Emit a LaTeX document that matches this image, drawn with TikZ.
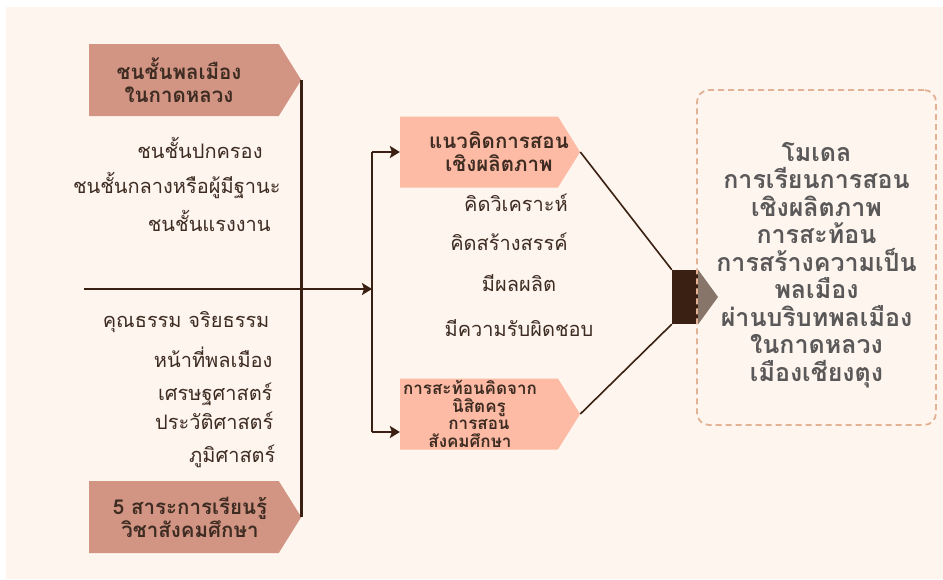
\documentclass[tikz,border=0pt]{standalone}
\usepackage{fontspec}
\usepackage{tikz}
\usetikzlibrary{shapes.symbols,arrows.meta}
\newfontfamily\thaifont[Script=Thai]{Loma}
\definecolor{bgcream}{HTML}{FDF5EE}
\definecolor{roseclay}{HTML}{D29584}
\definecolor{salmon}{HTML}{FDBBA5}
\definecolor{darkbrown}{HTML}{3A2012}
\definecolor{textbrown}{HTML}{3E2C22}
\definecolor{slategrey}{HTML}{5A5858}
\definecolor{dashpeach}{HTML}{E3B194}

\begin{document}
\begin{tikzpicture}[x=1pt,y=-1pt,
    every node/.style={font=\thaifont\fontsize{20}{24}\selectfont, text=textbrown},
    headbox/.style={signal, signal to=east, signal pointer angle=116, fill=roseclay,
        minimum width=212pt, minimum height=72pt, inner sep=0pt, align=center,
        font=\thaifont\bfseries\fontsize{20.5}{23}\selectfont},
    ideabox/.style={headbox, fill=salmon, minimum width=180pt, minimum height=71pt},
    trunk/.style={draw=darkbrown, line width=2.6pt},
    branch/.style={draw=darkbrown, line width=1.6pt},
    feed/.style={trunk, -{Stealth[length=10pt,width=12pt,inset=2pt]}}
]
\useasboundingbox[fill=white] (0,0) rectangle (943,579);
\fill[bgcream] (6,7) rectangle (943,579);

\node[headbox] (citizen) at (184,80) {ชนชั้นพลเมือง\hspace*{10pt}\\ในกาดหลวง\hspace*{10pt}};
\node[headbox] (strands) at (184,517) {\hspace*{12pt}5 สาระการเรียนรู้\\\hspace*{12pt}วิชาสังคมศึกษา};

\node[anchor=east] (rulers) at (266,148) {ชนชั้นปกครอง};
\node[anchor=east] (middle) at (284,186) {ชนชั้นกลางหรือผู้มีฐานะ};
\node[anchor=east] (labour) at (274,221) {ชนชั้นแรงงาน};

\node[anchor=east] (ethics) at (273,322) {คุณธรรม จริยธรรม};
\node[anchor=east] (civics) at (276,357) {หน้าที่พลเมือง};
\node[anchor=east] (econ) at (276,394) {เศรษฐศาสตร์};
\node[anchor=east] (history) at (277,421) {ประวัติศาสตร์};
\node[anchor=east] (geo) at (279,456) {ภูมิศาสตร์};

\node[ideabox] (concept) at (479,152)
    {\hspace*{20pt}แนวคิดการสอน\hspace*{-20pt}\\\hspace*{20pt}เชิงผลิตภาพ\hspace*{-20pt}};
\node[ideabox, font=\thaifont\bfseries\fontsize{17}{17.5}\selectfont] (reflect) at (479,414)
    {การสะท้อนคิดจาก\hspace*{18pt}\\นิสิตครู\hspace*{18pt}\\การสอน\hspace*{18pt}\\สังคมศึกษา\hspace*{18pt}};

\node (analyse) at (516,203) {คิดวิเคราะห์};
\node (create) at (509,242) {คิดสร้างสรรค์};
\node (output) at (519,283) {มีผลผลิต};
\node (duty) at (519,328) {มีความรับผิดชอบ};

\coordinate (start) at (84,289);
\coordinate (forkA) at (372,152);
\coordinate (forkB) at (372,432);

\draw[trunk] (citizen.east) -- (strands.east);
\draw[feed] (start) -- (forkA |- start);
\draw[trunk] (forkA) -- (forkB);
\draw[feed] (forkA) -- (concept.west |- forkA);
\draw[feed] (forkB) -- (reflect.west |- forkB);

\node[fill=darkbrown, minimum width=26pt, minimum height=54pt, inner sep=0pt] (hub) at (685,297) {};
\draw[branch] (concept.east) -- (hub.north west);
\draw[branch] (reflect.east) -- (hub.south west);
\fill[darkbrown, opacity=0.6] (hub.north east) -- (718,297) -- (hub.south east) -- cycle;

\node[draw=dashpeach, line width=1.8pt, dash pattern=on 6pt off 4pt, rounded corners=12pt,
    minimum width=239pt, minimum height=335pt] (model) at (816.5,257.5) {};
\node[align=center, text=slategrey, font=\thaifont\bfseries\fontsize{25}{27.5}\selectfont]
    (modeltext) at (816.5,265)
    {โมเดล\\การเรียนการสอน\\เชิงผลิตภาพ\\การสะท้อน\\การสร้างความเป็น\\พลเมือง\\ผ่านบริบทพลเมือง\\ในกาดหลวง\\เมืองเชียงตุง};
\end{tikzpicture}
\end{document}
